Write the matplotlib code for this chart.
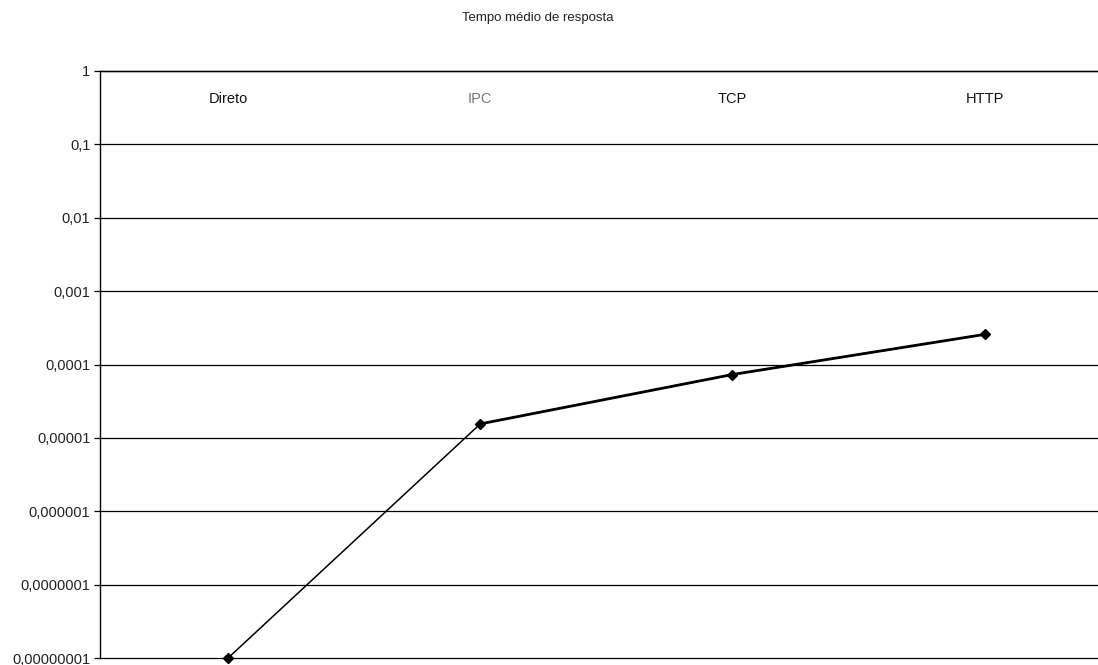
import matplotlib
matplotlib.use("Agg")
import matplotlib.pyplot as plt
from matplotlib.ticker import FixedLocator, FixedFormatter, NullLocator

categories = ["Direto", "IPC", "TCP", "HTTP"]
values = [1e-8, 1.55e-5, 7.3e-5, 2.57e-4]
ytick_values = [1, 0.1, 0.01, 0.001, 0.0001, 0.00001, 0.000001, 0.0000001, 0.00000001]
ytick_labels = ["1", "0,1", "0,01", "0,001", "0,0001", "0,00001", "0,000001",
                "0,0000001", "0,00000001"]

plt.rcParams['font.family'] = ['Liberation Sans', 'DejaVu Sans']

fig = plt.figure(figsize=(10.98, 6.65), dpi=100)
ax = fig.add_axes([100/1098, 7/665, 1 - 100/1098, (658-71)/665])

x = list(range(len(categories)))
ax.plot(x, values, color='black', lw=1.1, marker='D', markersize=5, zorder=3, clip_on=False)
ax.plot(x[1:], values[1:], color='black', lw=2.0, zorder=3, clip_on=False)

ax.set_yscale('log')
ax.set_ylim(1e-8, 1)
ax.set_xlim(-0.508, 3.45)
ax.yaxis.set_major_locator(FixedLocator(ytick_values))
ax.yaxis.set_major_formatter(FixedFormatter(ytick_labels))
ax.yaxis.set_minor_locator(NullLocator())
ax.grid(axis='y', color='black', lw=0.9)
for gl in ax.get_ygridlines():
    gl.set_clip_on(False)
ax.tick_params(axis='y', length=4, width=0.9, labelsize=10.5, pad=3, labelcolor='#222222')

ax.xaxis.tick_top()
ax.set_xticks(x)
ax.set_xticklabels(categories)
ax.tick_params(axis='x', length=0, labelsize=10.5, pad=-25, labelcolor='#111111')
ax.get_xticklabels()[1].set_color('#777777')

for s in ['right', 'bottom']:
    ax.spines[s].set_visible(False)
ax.spines['left'].set_linewidth(1.0)
ax.spines['top'].set_linewidth(1.0)

fig.text(538/1098, 1 - 18/665, "Tempo médio de resposta", ha='center', va='center',
         fontsize=9.5, color='#222222')

fig.savefig("out.png", dpi=100)
